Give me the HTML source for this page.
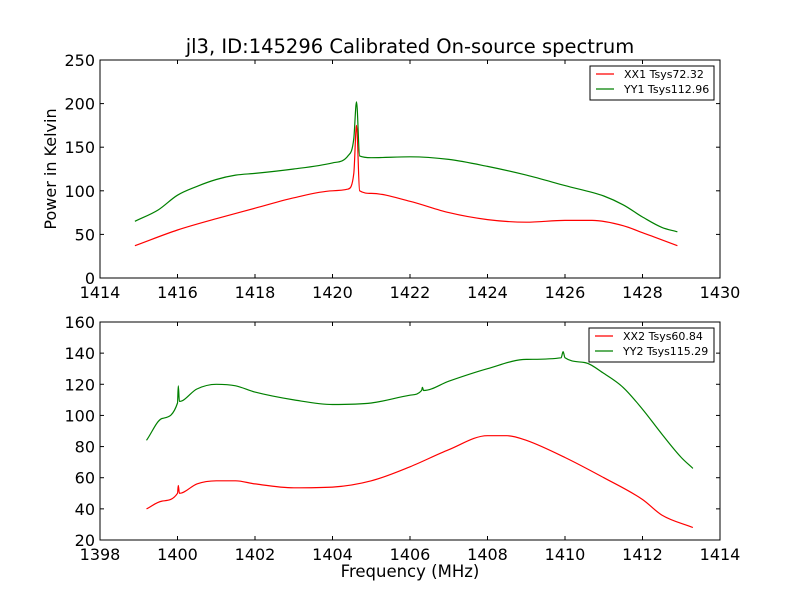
<!DOCTYPE html>
<html><head><meta charset="utf-8"><style>
body{margin:0;background:#fff}
svg text{font-family:"DejaVu Sans","Liberation Sans",sans-serif}
</style></head><body>
<svg id="c" width="800" height="600" xmlns="http://www.w3.org/2000/svg">
<rect width="800" height="600" fill="#fff"/>
<text x="410" y="53" font-size="19.5" text-anchor="middle">jl3, ID:145296 Calibrated On-source spectrum</text>
<text x="56" y="169" font-size="16" text-anchor="middle" transform="rotate(-90 56 169)">Power in Kelvin</text>
<text x="410" y="577" font-size="16.5" text-anchor="middle">Frequency (MHz)</text>
<g id="g"></g>
</svg>
<script>
const topXX_f=[1414.9,1416,1417,1418,1419,1420,1420.4,1420.55,1420.62,1420.7,1421,1422,1423,1424,1425,1426,1426.7,1427.5,1428,1428.9];
const topXX_v=[37,55,68,80,92,100,102,120,175,100,97,88,75,67,64,66,66,60,52,37];
const topYY_f=[1414.9,1415.5,1416,1416.5,1417,1417.5,1418,1419,1420,1420.4,1420.55,1420.62,1420.7,1421,1422,1423,1424,1425,1426,1427,1427.5,1428,1428.5,1428.9];
const topYY_v=[65,78,95,105,113,118,120,125,132,140,160,202,140,138,139,136,128,118,106,94,84,70,58,53];
const botXX_f=[1399.2,1399.6,1400,1400.02,1400.05,1400.5,1401,1401.5,1402,1403,1404,1405,1406,1407,1408,1408.5,1409,1410,1411,1412,1412.5,1413.3];
const botXX_v=[40,45,50,55,50,56,58,58,56,53.5,54,58,67,78,87,87,84,73,60,46,36,28];
const botYY_f=[1399.2,1399.6,1400,1400.02,1400.05,1400.5,1401,1401.5,1402,1403,1404,1405,1406,1406.3,1406.32,1406.35,1407,1408,1409,1409.9,1409.95,1410,1410.5,1411,1411.5,1412,1412.5,1413,1413.3];
const botYY_v=[84,98,108,119,109,117,120,119,115,110,107,108,113,116,118,116,122,130,136,137,141,137,134,127,118,104,88,73,66];
const topXTicks=[1414,1416,1418,1420,1422,1424,1426,1428,1430];
const topYTicks=[0,50,100,150,200,250];
const botXTicks=[1398,1400,1402,1404,1406,1408,1410,1412,1414];
const botYTicks=[20,40,60,80,100,120,140,160];
const topLegend=["XX1 Tsys72.32","YY1 Tsys112.96"];
const botLegend=["XX2 Tsys60.84","YY2 Tsys115.29"];
const NS="http://www.w3.org/2000/svg",G=document.getElementById('g');
function mk(t,a){const e=document.createElementNS(NS,t);for(const k in a)e.setAttribute(k,a[k]);G.appendChild(e);return e;}
function monoPath(xs,ys){
 const n=xs.length,d=[],m=[];
 for(let i=0;i<n-1;i++)d.push((ys[i+1]-ys[i])/(xs[i+1]-xs[i]));
 m[0]=d[0];m[n-1]=d[n-2];
 for(let i=1;i<n-1;i++){m[i]=(d[i-1]*d[i]<=0)?0:(d[i-1]+d[i])/2;}
 for(let i=0;i<n-1;i++){if(d[i]===0){m[i]=0;m[i+1]=0;continue;}const a=m[i]/d[i],b=m[i+1]/d[i],s=a*a+b*b;if(s>9){const t=3/Math.sqrt(s);m[i]=t*a*d[i];m[i+1]=t*b*d[i];}}
 let p='M'+xs[0].toFixed(1)+','+ys[0].toFixed(1);
 for(let i=0;i<n-1;i++){const h=(xs[i+1]-xs[i])/3;
  p+=' C'+(xs[i]+h).toFixed(1)+','+(ys[i]+m[i]*h).toFixed(1)+' '+(xs[i+1]-h).toFixed(1)+','+(ys[i+1]-m[i+1]*h).toFixed(1)+' '+xs[i+1].toFixed(1)+','+ys[i+1].toFixed(1);}
 return p;
}
function panel(y0,y1,xt,yt,series,leg,lx,pfx){
 const X0=100,X1=720;
 const sx=v=>X0+(v-xt[0])/(xt[xt.length-1]-xt[0])*(X1-X0);
 const sy=v=>y1-(v-yt[0])/(yt[yt.length-1]-yt[0])*(y1-y0);
 series.forEach((s,i)=>{
  const p=mk('path',{d:monoPath(s.f.map(sx),s.v.map(sy)),fill:'none',stroke:s.c,'stroke-width':1.2});
  
  
 });
 const fr=mk('rect',{x:X0,y:y0,width:X1-X0,height:y1-y0,fill:'none',stroke:'#000'});
 
 
 xt.forEach(v=>{const x=sx(v);mk('line',{x1:x,x2:x,y1:y1,y2:y1-4,stroke:'#000'});mk('line',{x1:x,x2:x,y1:y0,y2:y0+4,stroke:'#000'});
  const t=mk('text',{x:x,y:y1+20,'font-size':16,'text-anchor':'middle'});t.textContent=v;
  
  });
 yt.forEach(v=>{const y=sy(v);mk('line',{x1:X0,x2:X0+4,y1:y,y2:y,stroke:'#000'});mk('line',{x1:X1,x2:X1-4,y1:y,y2:y,stroke:'#000'});
  const t=mk('text',{x:X0-5,y:y+6,'font-size':16,'text-anchor':'end'});t.textContent=v;
  
  });
 const lb=mk('rect',{x:lx,y:y0+6,width:714-lx,height:34,fill:'#fff',stroke:'#000'});
 
 
 leg.forEach((l,i)=>{const y=y0+14+i*15;mk('line',{x1:lx+6,x2:lx+24,y1:y,y2:y,stroke:series[i].c,'stroke-width':1.2});
  const t=mk('text',{x:lx+34,y:y+4,'font-size':11});t.textContent=l;
  
  });
}
panel(60,278,topXTicks,topYTicks,[{f:topXX_f,v:topXX_v,c:'#ff0000',n:'xx1'},{f:topYY_f,v:topYY_v,c:'#008000',n:'yy1'}],topLegend,590,'top');
panel(322,540,botXTicks,botYTicks,[{f:botXX_f,v:botXX_v,c:'#ff0000',n:'xx2'},{f:botYY_f,v:botYY_v,c:'#008000',n:'yy2'}],botLegend,589,'bottom');
</script>
</body></html>
